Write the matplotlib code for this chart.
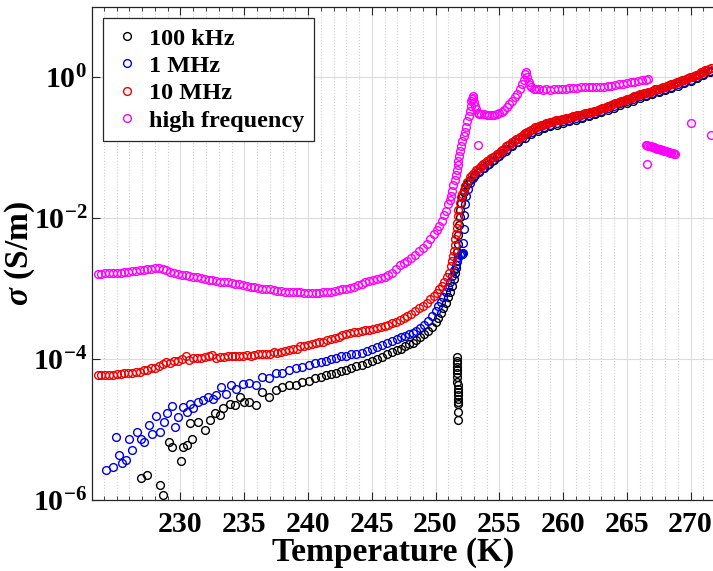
import numpy as np
import matplotlib
matplotlib.use("Agg")
import matplotlib.pyplot as plt
from matplotlib.ticker import FixedLocator, FixedFormatter, NullLocator, MultipleLocator
from matplotlib.lines import Line2D

plt.rcParams['font.family'] = ['Liberation Serif', 'DejaVu Serif']
plt.rcParams['font.weight'] = 'bold'
plt.rcParams['mathtext.fontset'] = 'custom'
plt.rcParams['mathtext.rm'] = 'Liberation Serif:bold'
plt.rcParams['mathtext.bf'] = 'Liberation Serif:bold'
plt.rcParams['mathtext.it'] = 'Liberation Serif:bold:italic'

# ---------------- data: (temperature K, log10 sigma [S/m]) ----------------
pts_100k = [
    (226.88, -5.69), (227.39, -5.65), (228.37, -5.79), (228.6, -5.93), (229.07, -5.17),
    (229.33, -5.25), (230.05, -5.44), (230.23, -5.25), (230.49, -5.22), (230.88, -5.13),
    (230.75, -4.91), (231.40, -4.89), (231.91, -5.01), (232.3, -4.87), (232.69, -4.77),
    (233.08, -4.80), (233.33, -4.70), (233.85, -4.63), (234.24, -4.65), (234.63, -4.54),
    (235.01, -4.61), (235.4, -4.61), (235.92, -4.65), (236.43, -4.46), (236.95, -4.54),
    (237.47, -4.44), (237.98, -4.39), (238.5, -4.37), (239.02, -4.37), (239.53, -4.32),
    (240.05, -4.31), (240.57, -4.27), (241.0, -4.25), (241.4, -4.23), (241.8, -4.21),
    (242.2, -4.19), (242.6, -4.17), (243.0, -4.15), (243.4, -4.13), (243.8, -4.10),
    (244.2, -4.08), (244.6, -4.05), (245.0, -4.02), (245.4, -4.00), (245.8, -3.97),
    (246.2, -3.93), (246.6, -3.90), (247.0, -3.87), (247.3, -3.85), (247.6, -3.82),
    (247.9, -3.79), (248.2, -3.77), (248.5, -3.73), (248.8, -3.69), (249.1, -3.65),
    (249.4, -3.60), (249.7, -3.54), (250.0, -3.47), (250.2, -3.41), (250.4, -3.35),
    (250.6, -3.28), (250.8, -3.20), (251.0, -3.12), (251.15, -3.04), (251.3, -2.96),
    (251.45, -2.86), (251.55, -2.78),
    # drop-out cluster
    (251.67, -3.97), (251.68, -4.02), (251.66, -4.06), (251.68, -4.11), (251.70, -4.16),
    (251.68, -4.20), (251.70, -4.25), (251.71, -4.32), (251.73, -4.37), (251.73, -4.42),
    (251.75, -4.46), (251.76, -4.51), (251.76, -4.56), (251.76, -4.61), (251.78, -4.64),
    (251.78, -4.75), (251.79, -4.87),
    # high temperature branch
    (251.6, -2.70), (251.65, -2.60), (251.7, -2.48), (251.75, -2.36), (251.8, -2.24),
    (251.85, -2.10), (251.9, -1.98), (251.95, -1.88), (252.0, -1.79), (252.1, -1.70),
    (252.2, -1.63), (252.35, -1.56), (252.5, -1.51), (252.7, -1.46), (253.0, -1.40),
    (253.4, -1.34), (253.8, -1.29), (254.2, -1.23), (254.6, -1.17), (255.0, -1.11),
    (255.5, -1.04), (256.0, -0.98), (256.5, -0.92), (257.0, -0.86), (257.5, -0.81),
    (258.0, -0.76), (258.5, -0.72), (259.0, -0.69), (259.5, -0.67), (260.0, -0.64),
    (260.5, -0.62), (261.0, -0.60), (261.5, -0.58), (262.0, -0.55), (262.5, -0.52),
    (263.0, -0.49), (263.5, -0.46), (264.0, -0.43), (264.5, -0.39), (265.0, -0.36),
    (265.5, -0.33), (266.0, -0.29), (266.5, -0.27), (267.0, -0.24), (267.5, -0.21),
    (268.0, -0.18), (268.5, -0.15), (269.0, -0.12), (269.5, -0.08), (270.0, -0.05),
    (270.5, -0.01), (271.0, 0.03), (271.5, 0.07),
]

pts_1M = [
    (224.16, -5.57), (224.68, -5.53), (224.94, -5.11), (225.19, -5.36), (225.45, -5.48),
    (225.71, -5.43), (225.97, -5.13), (226.22, -5.29), (226.61, -5.03), (226.88, -5.13),
    (227.13, -5.17), (227.52, -4.94), (227.78, -5.06), (228.04, -4.81), (228.43, -5.03),
    (228.68, -4.89), (228.94, -4.77), (229.33, -4.67), (229.59, -4.96), (229.84, -4.82),
    (230.23, -4.68), (230.49, -4.75), (230.75, -4.64), (231.01, -4.70), (231.40, -4.61),
    (231.78, -4.58), (232.17, -4.54), (232.56, -4.56), (232.81, -4.51), (233.2, -4.39),
    (233.59, -4.49), (233.98, -4.37), (234.36, -4.42), (234.88, -4.35), (235.4, -4.34),
    (235.92, -4.37), (236.43, -4.25), (236.95, -4.27), (237.47, -4.20), (237.98, -4.19),
    (238.5, -4.16), (239.02, -4.13), (239.53, -4.11), (240.05, -4.09), (240.57, -4.06),
    (241.0, -4.04), (241.4, -4.02), (241.8, -4.00), (242.2, -3.98), (242.6, -3.96),
    (243.0, -3.95), (243.4, -3.93), (243.8, -3.92), (244.2, -3.91), (244.6, -3.89),
    (245.0, -3.86), (245.4, -3.83), (245.8, -3.80), (246.2, -3.77), (246.6, -3.74),
    (247.0, -3.71), (247.3, -3.69), (247.6, -3.67), (247.9, -3.65), (248.2, -3.63),
    (248.5, -3.60), (248.8, -3.56), (249.1, -3.52), (249.4, -3.46), (249.7, -3.39),
    (250.0, -3.31), (250.2, -3.25), (250.4, -3.19), (250.6, -3.12), (250.8, -3.05),
    (251.0, -2.97), (251.15, -2.90), (251.3, -2.82), (251.45, -2.74), (251.6, -2.66),
    (251.7, -2.60), (251.8, -2.55), (251.9, -2.52), (252.0, -2.51), (252.05, -2.50),
    (252.1, -2.50), (252.08, -2.51), (252.12, -2.49),
    (252.15, -2.35), (252.2, -2.15), (252.25, -1.95), (252.3, -1.80), (252.4, -1.68),
    (252.55, -1.58), (252.7, -1.50), (252.9, -1.43), (253.1, -1.38), (253.4, -1.33),
    (253.7, -1.28), (254.0, -1.24), (254.4, -1.19), (254.8, -1.13), (255.2, -1.08),
    (255.6, -1.02), (256.0, -0.96), (256.4, -0.91), (256.8, -0.86), (257.2, -0.81),
    (257.6, -0.77), (258.0, -0.73), (258.5, -0.70), (259.0, -0.67), (259.5, -0.65),
    (260.0, -0.62), (260.5, -0.60), (261.0, -0.58), (261.5, -0.56), (262.0, -0.53),
    (262.5, -0.50), (263.0, -0.47), (263.5, -0.44), (264.0, -0.41), (264.5, -0.37),
    (265.0, -0.34), (265.5, -0.31), (266.0, -0.27), (266.5, -0.25), (267.0, -0.22),
    (267.5, -0.19), (268.0, -0.16), (268.5, -0.13), (269.0, -0.10), (269.5, -0.06),
    (270.0, -0.03), (270.5, 0.01), (271.0, 0.05), (271.5, 0.09),
]

pts_10M = [
    (223.5, -4.23), (223.8, -4.23), (224.1, -4.22), (224.4, -4.23), (224.7, -4.22),
    (225.0, -4.21), (225.3, -4.21), (225.6, -4.20), (225.9, -4.20), (226.2, -4.19),
    (226.5, -4.18), (226.8, -4.18), (227.1, -4.16), (227.4, -4.15), (227.7, -4.13),
    (228.0, -4.12), (228.3, -4.10), (228.6, -4.07), (228.9, -4.04), (229.2, -4.05),
    (229.5, -4.03), (229.8, -4.02), (230.1, -4.00), (230.4, -3.96), (230.7, -4.01),
    (231.0, -3.99), (231.3, -3.98), (231.6, -3.99), (231.9, -3.97), (232.2, -3.96),
    (232.5, -3.94), (232.8, -3.98), (233.1, -3.97), (233.4, -3.97), (233.7, -3.96),
    (234.0, -3.96), (234.3, -3.96), (234.6, -3.95), (234.9, -3.95), (235.2, -3.94),
    (235.5, -3.95), (235.8, -3.94), (236.1, -3.93), (236.4, -3.93), (236.7, -3.92),
    (237.0, -3.92), (237.3, -3.90), (237.6, -3.91), (237.9, -3.90), (238.2, -3.89),
    (238.5, -3.87), (238.8, -3.85), (239.1, -3.86), (239.4, -3.82), (239.7, -3.82),
    (240.0, -3.80), (240.3, -3.79), (240.6, -3.77), (240.9, -3.76), (241.2, -3.75),
    (241.5, -3.73), (241.8, -3.72), (242.1, -3.70), (242.4, -3.68), (242.7, -3.66),
    (243.0, -3.65), (243.3, -3.63), (243.6, -3.62), (243.9, -3.61), (244.2, -3.60),
    (244.5, -3.59), (244.8, -3.58), (245.1, -3.57), (245.4, -3.56), (245.7, -3.55),
    (246.0, -3.53), (246.3, -3.51), (246.6, -3.49), (246.9, -3.47), (247.2, -3.45),
    (247.5, -3.42), (247.8, -3.39), (248.1, -3.36), (248.4, -3.32), (248.7, -3.28),
    (249.0, -3.24), (249.3, -3.20), (249.6, -3.15), (249.9, -3.10), (250.1, -3.06),
    (250.3, -3.01), (250.5, -2.96), (250.7, -2.90), (250.9, -2.84), (251.05, -2.77),
    (251.2, -2.68), (251.3, -2.60), (251.4, -2.53), (251.45, -2.46), (251.5, -2.38),
    (251.55, -2.30), (251.6, -2.22), (251.65, -2.14), (251.7, -2.06), (251.75, -1.97),
    (251.8, -1.88), (251.9, -1.78), (252.0, -1.70), (252.1, -1.65), (252.2, -1.60),
    (252.35, -1.54), (252.5, -1.48), (252.7, -1.42), (252.85, -1.38),
    (253.0, -1.35), (253.15, -1.32), (253.3, -1.30), (253.45, -1.28), (253.6, -1.26),
    (253.75, -1.23), (253.9, -1.21), (254.05, -1.19), (254.2, -1.17), (254.35, -1.15),
    (254.5, -1.13), (254.65, -1.11), (254.8, -1.09), (254.95, -1.07), (255.1, -1.05),
    (255.25, -1.03), (255.4, -1.01), (255.55, -0.98), (255.7, -0.96), (255.85, -0.94),
    (256.0, -0.92), (256.15, -0.90), (256.3, -0.88), (256.45, -0.87), (256.6, -0.85),
    (256.75, -0.83), (256.9, -0.81), (257.05, -0.79), (257.2, -0.77), (257.35, -0.76),
    (257.5, -0.74), (257.65, -0.73), (257.8, -0.71), (257.95, -0.70), (258.1, -0.69),
    (258.25, -0.68), (258.4, -0.67), (258.55, -0.66), (258.7, -0.65), (258.85, -0.64),
    (259.0, -0.63), (259.15, -0.63), (259.3, -0.62), (259.45, -0.61), (259.6, -0.61),
    (259.75, -0.60), (259.9, -0.59), (260.05, -0.59), (260.2, -0.58), (260.35, -0.57),
    (260.5, -0.57), (260.65, -0.56), (260.8, -0.55), (260.95, -0.55), (261.1, -0.54),
    (261.25, -0.53), (261.4, -0.53), (261.55, -0.52), (261.7, -0.51), (261.85, -0.51),
    (262.0, -0.50), (262.15, -0.49), (262.3, -0.49), (262.45, -0.48), (262.6, -0.47),
    (262.75, -0.46), (262.9, -0.45), (263.05, -0.44), (263.2, -0.43), (263.35, -0.42),
    (263.5, -0.41), (263.65, -0.40), (263.8, -0.39), (263.95, -0.38), (264.1, -0.37),
    (264.25, -0.36), (264.4, -0.35), (264.55, -0.34), (264.7, -0.33), (264.85, -0.32),
    (265.0, -0.31), (265.15, -0.30), (265.3, -0.29), (265.45, -0.28), (265.6, -0.27),
    (265.75, -0.26), (265.9, -0.25), (266.05, -0.24), (266.2, -0.23), (266.35, -0.22),
    (266.5, -0.22), (266.65, -0.21), (266.8, -0.20), (266.95, -0.19), (267.1, -0.18),
    (267.25, -0.17), (267.4, -0.17), (267.55, -0.16), (267.7, -0.15), (267.85, -0.14),
    (268.0, -0.13), (268.15, -0.12), (268.3, -0.11), (268.45, -0.10), (268.6, -0.09),
    (268.75, -0.08), (268.9, -0.07), (269.05, -0.06), (269.2, -0.05), (269.35, -0.04),
    (269.5, -0.03), (269.65, -0.02), (269.8, -0.01), (269.95, 0.00), (270.1, 0.01),
    (270.25, 0.02), (270.4, 0.03), (270.55, 0.04), (270.7, 0.05), (270.85, 0.07),
    (271.0, 0.08), (271.15, 0.10), (271.3, 0.11), (271.45, 0.12), (271.6, 0.13),
]

pts_hf = [
    (223.5, -2.79), (223.8, -2.79), (224.1, -2.78), (224.4, -2.78), (224.7, -2.78),
    (225.0, -2.77), (225.3, -2.77), (225.6, -2.76), (225.9, -2.76), (226.2, -2.75),
    (226.5, -2.75), (226.8, -2.74), (227.1, -2.73), (227.4, -2.72), (227.7, -2.72),
    (228.0, -2.71), (228.3, -2.71), (228.6, -2.72), (228.9, -2.74), (229.2, -2.76),
    (229.5, -2.78), (229.8, -2.79), (230.1, -2.80), (230.4, -2.81), (230.7, -2.82),
    (231.0, -2.83), (231.3, -2.84), (231.6, -2.85), (231.9, -2.86), (232.2, -2.87),
    (232.5, -2.88), (232.8, -2.89), (233.1, -2.90), (233.4, -2.90), (233.7, -2.91),
    (234.0, -2.92), (234.3, -2.93), (234.6, -2.94), (234.9, -2.95), (235.2, -2.96),
    (235.5, -2.97), (235.8, -2.98), (236.1, -2.99), (236.4, -3.00), (236.7, -3.00),
    (237.0, -3.01), (237.3, -3.02), (237.6, -3.03), (237.9, -3.03), (238.2, -3.04),
    (238.5, -3.04), (238.8, -3.05), (239.1, -3.05), (239.4, -3.05), (239.7, -3.06),
    (240.0, -3.06), (240.3, -3.06), (240.6, -3.06), (240.9, -3.06), (241.2, -3.05),
    (241.5, -3.05), (241.8, -3.04), (242.1, -3.03), (242.4, -3.02), (242.7, -3.01),
    (243.0, -3.00), (243.3, -2.99), (243.6, -2.97), (243.9, -2.95), (244.2, -2.93),
    (244.5, -2.91), (244.8, -2.89), (245.1, -2.88), (245.4, -2.86), (245.7, -2.85),
    (246.0, -2.83), (246.3, -2.81), (246.6, -2.78), (246.9, -2.72), (247.2, -2.66),
    (247.5, -2.63), (247.8, -2.60), (248.1, -2.56), (248.4, -2.52), (248.7, -2.47),
    (249.0, -2.42), (249.3, -2.36), (249.6, -2.30), (249.9, -2.23), (250.1, -2.17),
    (250.3, -2.11), (250.5, -2.04), (250.7, -1.96), (250.85, -1.89), (251.0, -1.80),
    (251.1, -1.74), (251.2, -1.68), (251.3, -1.61), (251.4, -1.53), (251.5, -1.46),
    (251.6, -1.39), (251.7, -1.31), (251.75, -1.25), (251.8, -1.18), (251.85, -1.12),
    (251.9, -1.05), (252.0, -0.97), (252.1, -0.90), (252.2, -0.83), (252.3, -0.77),
    (252.4, -0.70), (252.5, -0.62), (252.6, -0.55), (252.7, -0.47), (252.75, -0.40),
    (252.8, -0.34), (252.85, -0.30), (252.9, -0.26), (252.95, -0.29), (253.0, -0.35),
    (253.1, -0.40), (253.2, -0.45), (253.3, -0.50), (253.4, -0.52), (253.6, -0.52),
    (253.8, -0.52), (254.0, -0.53), (254.2, -0.53), (254.4, -0.54), (254.6, -0.53),
    (254.8, -0.52), (255.0, -0.51), (255.2, -0.49), (255.4, -0.46), (255.6, -0.42),
    (255.8, -0.38), (256.0, -0.33), (256.2, -0.28), (256.4, -0.23), (256.6, -0.17),
    (256.8, -0.10), (256.95, -0.03), (257.05, 0.05), (257.1, 0.08), (257.2, 0.00),
    (257.3, -0.07), (257.4, -0.11), (257.5, -0.14), (257.7, -0.16), (257.9, -0.17),
    (258.1, -0.17), (258.4, -0.18), (258.7, -0.17), (259.0, -0.18), (259.3, -0.17),
    (259.6, -0.17), (259.9, -0.16), (260.2, -0.16), (260.5, -0.15), (260.8, -0.15),
    (261.1, -0.15), (261.4, -0.14), (261.7, -0.14), (262.0, -0.14), (262.3, -0.14),
    (262.6, -0.13), (262.9, -0.13), (263.2, -0.13), (263.5, -0.12), (263.8, -0.12),
    (264.1, -0.11), (264.4, -0.10), (264.7, -0.09), (265.0, -0.08), (265.3, -0.07),
    (265.6, -0.06), (265.9, -0.05), (266.2, -0.04), (266.5, -0.03), (266.7, -0.02),
    # scattered readings
    (253.3, -0.96),
    (266.5, -0.96), (266.6, -0.965), (266.7, -0.97), (266.8, -0.975), (266.9, -0.98),
    (267.0, -0.985), (267.1, -0.99), (267.2, -1.00), (267.3, -1.005), (267.4, -1.01),
    (267.5, -1.015), (267.6, -1.02), (267.7, -1.03), (267.8, -1.035), (267.9, -1.04),
    (268.0, -1.045), (268.1, -1.05), (268.2, -1.055), (268.3, -1.06), (268.4, -1.07),
    (268.5, -1.075), (268.6, -1.08), (268.7, -1.085), (268.8, -1.09),
    (266.6, -1.23), (270.0, -0.65), (271.6, -0.82),
]

labels = ['100 kHz', '1 MHz', '10 MHz', 'high frequency']
colors = ['black', '#0000dd', '#ee0000', '#ff00ff']
series = [pts_100k, pts_1M, pts_10M, pts_hf]

x_ticks = [230, 235, 240, 245, 250, 255, 260, 265, 270]
y_ticks = [1e-6, 1e-4, 1e-2, 1e0]
y_tick_labels = [r'$10^{-6}$', r'$10^{-4}$', r'$10^{-2}$', r'$10^{0}$']

# ---------------- figure ----------------
W, H = 713, 571
fig = plt.figure(figsize=(W / 100, H / 100), dpi=100)
ax = fig.add_axes([92 / W, 71 / H, 621 / W, 493 / H])

MS, MEW = 5.6, 1.0
for pts, c, lab in zip(series, colors, labels):
    T = np.array([p[0] for p in pts])
    s = 10.0 ** np.array([p[1] for p in pts])
    ax.plot(T, s, linestyle='none', marker='o', markersize=MS, markerfacecolor='none',
            markeredgecolor=c, markeredgewidth=MEW, label=lab, zorder=3)

ax.set_yscale('log')
ax.set_xlim(223.06, 271.76)
ax.set_ylim(1e-6, 1e1)

ax.xaxis.set_major_locator(FixedLocator(x_ticks))
ax.xaxis.set_minor_locator(MultipleLocator(1))
ax.yaxis.set_major_locator(FixedLocator(y_ticks))
ax.yaxis.set_major_formatter(FixedFormatter(y_tick_labels))
ax.yaxis.set_minor_locator(NullLocator())

ax.grid(True, which='major', color='#dcdcdc', linestyle='-', linewidth=0.8, zorder=0)
ax.grid(True, which='minor', axis='x', color='#cfcfcf', linestyle=':', linewidth=0.8, zorder=0)
ax.set_axisbelow(True)

ax.tick_params(which='both', direction='in', top=True, right=False, colors='#262626',
               labelcolor='black')
ax.tick_params(which='major', length=6, width=0.8, labelsize=21.5)
ax.tick_params(axis='x', which='major', pad=8)
ax.tick_params(axis='y', which='major', pad=3.5)
ax.tick_params(which='minor', length=3, width=0.6)
for lab in ax.get_xticklabels() + ax.get_yticklabels():
    lab.set_fontweight('bold')

for sp in ['left', 'bottom', 'top']:
    ax.spines[sp].set_color('#262626')
    ax.spines[sp].set_linewidth(0.9)
ax.spines['right'].set_visible(False)

fig.text(393 / W, 3 / H, 'Temperature (K)', ha='center', va='bottom',
         fontsize=24, fontweight='bold')
ax.set_ylabel(r'$\sigma$ (S/m)', fontsize=24, fontweight='bold')
ax.yaxis.set_label_coords(-0.088, 0.5)

handles = [Line2D([], [], linestyle='none', marker='o', markersize=MS, markerfacecolor='none',
                  markeredgecolor=c, markeredgewidth=MEW) for c in colors]
leg = ax.legend(handles, labels, loc='upper left', bbox_to_anchor=(0.0177, 0.978),
                borderaxespad=0, frameon=True, fancybox=False,
                handlelength=1.2, handletextpad=0.3, borderpad=0.4, labelspacing=0.22,
                prop={'weight': 'bold', 'size': 17.5})
leg.get_frame().set_edgecolor('#262626')
leg.get_frame().set_linewidth(0.9)
leg.get_frame().set_alpha(1)

fig.savefig('out.png', dpi=100)
